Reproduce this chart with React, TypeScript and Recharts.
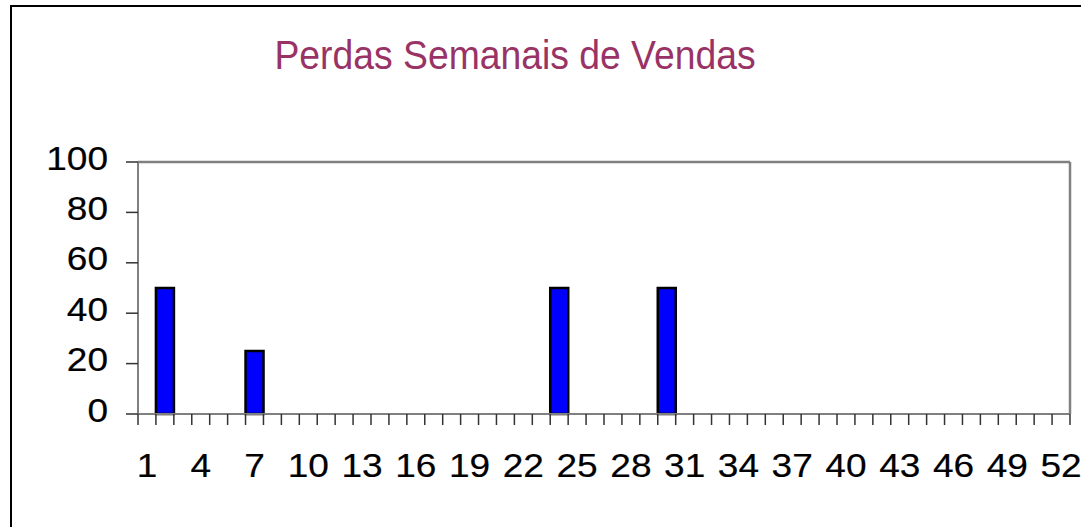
import React from "react";
import { BarChart, Bar, XAxis, YAxis, CartesianGrid } from "recharts";

const title = "Perdas Semanais de Vendas";
const weeks = [
  "1", "2", "3", "4", "5", "6", "7", "8", "9", "10", "11", "12", "13",
  "14", "15", "16", "17", "18", "19", "20", "21", "22", "23", "24", "25", "26",
  "27", "28", "29", "30", "31", "32", "33", "34", "35", "36", "37", "38", "39",
  "40", "41", "42", "43", "44", "45", "46", "47", "48", "49", "50", "51", "52",
];
const losses = [
  0, 50, 0, 0, 0, 0, 25, 0, 0, 0, 0, 0, 0,
  0, 0, 0, 0, 0, 0, 0, 0, 0, 0, 50, 0, 0,
  0, 0, 0, 50, 0, 0, 0, 0, 0, 0, 0, 0, 0,
  0, 0, 0, 0, 0, 0, 0, 0, 0, 0, 0, 0, 0,
];
const yTicks = [0, 20, 40, 60, 80, 100];

const data = weeks.map((w, i) => ({ week: w, value: losses[i] }));

const FONT = "'Liberation Sans', Arial, sans-serif";
const AXIS_GRAY = "#808080";

const XTick = (props: any) => {
  const { x, y, payload, index } = props;
  const off = payload && payload.offset != null ? payload.offset : 0;
  const isLast = index === weeks.length - 1;
  return (
    <g>
      <line x1={x - off} x2={x - off} y1={y} y2={y + 11} stroke="#333" strokeWidth={1.5} />
      {isLast && (
        <line x1={x + off} x2={x + off} y1={y} y2={y + 11} stroke="#333" strokeWidth={1.5} />
      )}
      {index % 3 === 0 && (
        <text
          transform={`translate(${x},${y + 63}) scale(1.14,1)`}
          textAnchor="middle"
          fontFamily={FONT}
          fontSize={32.5}
          fill="#000"
          stroke="#000"
          strokeWidth={0.2}
        >
          {payload.value}
        </text>
      )}
    </g>
  );
};

const YTick = (props: any) => {
  const { x, y, payload } = props;
  return (
    <text
      transform={`translate(${x},${y + 7.5}) scale(1.14,1)`}
      textAnchor="end"
      fontFamily={FONT}
      fontSize={32.5}
      fill="#000"
      stroke="#000"
      strokeWidth={0.2}
    >
      {payload.value}
    </text>
  );
};

export default function App() {
  return (
    <div
      style={{
        position: "absolute",
        left: 0,
        top: 0,
        width: 1081,
        height: 527,
        overflow: "hidden",
        background: "#fff",
      }}
    >
      <div
        style={{
          position: "absolute",
          left: 10,
          top: 5,
          width: 1200,
          height: 700,
          borderLeft: "2px solid #000",
          borderTop: "2px solid #000",
        }}
      />
      <svg
        width={1081}
        height={120}
        style={{ position: "absolute", left: 0, top: 0 }}
      >
        <text
          transform="translate(515,69) scale(0.91,1)"
          textAnchor="middle"
          fontFamily={FONT}
          fontSize={41}
          fill="#993366"
        >
          {title}
        </text>
      </svg>
      <div style={{ position: "absolute", left: 0, top: 0 }}>
        <BarChart
          width={1081}
          height={527}
          data={data}
          margin={{ top: 162, right: 11, bottom: 0, left: 0 }}
          barCategoryGap={0}
          barGap={0}
        >
          <CartesianGrid
            stroke={AXIS_GRAY}
            strokeWidth={2.5}
            horizontalCoordinatesGenerator={({ offset }: any) => [offset.top]}
            verticalCoordinatesGenerator={({ offset }: any) => [offset.left + offset.width]}
          />
          <XAxis
            dataKey="week"
            type="category"
            interval={0}
            height={113}
            tickSize={0}
            tickMargin={0}
            tickLine={false}
            axisLine={{ stroke: AXIS_GRAY, strokeWidth: 2 }}
            tick={<XTick />}
          />
          <YAxis
            domain={[0, 100]}
            ticks={yTicks}
            interval={0}
            width={138}
            tickSize={12}
            tickMargin={18}
            tickLine={{ stroke: "#333", strokeWidth: 1.5 }}
            axisLine={{ stroke: AXIS_GRAY, strokeWidth: 2 }}
            tick={<YTick />}
          />
          <Bar
            dataKey="value"
            fill="#0000FF"
            stroke="#000"
            strokeWidth={2.5}
            isAnimationActive={false}
          />
        </BarChart>
      </div>
    </div>
  );
}
